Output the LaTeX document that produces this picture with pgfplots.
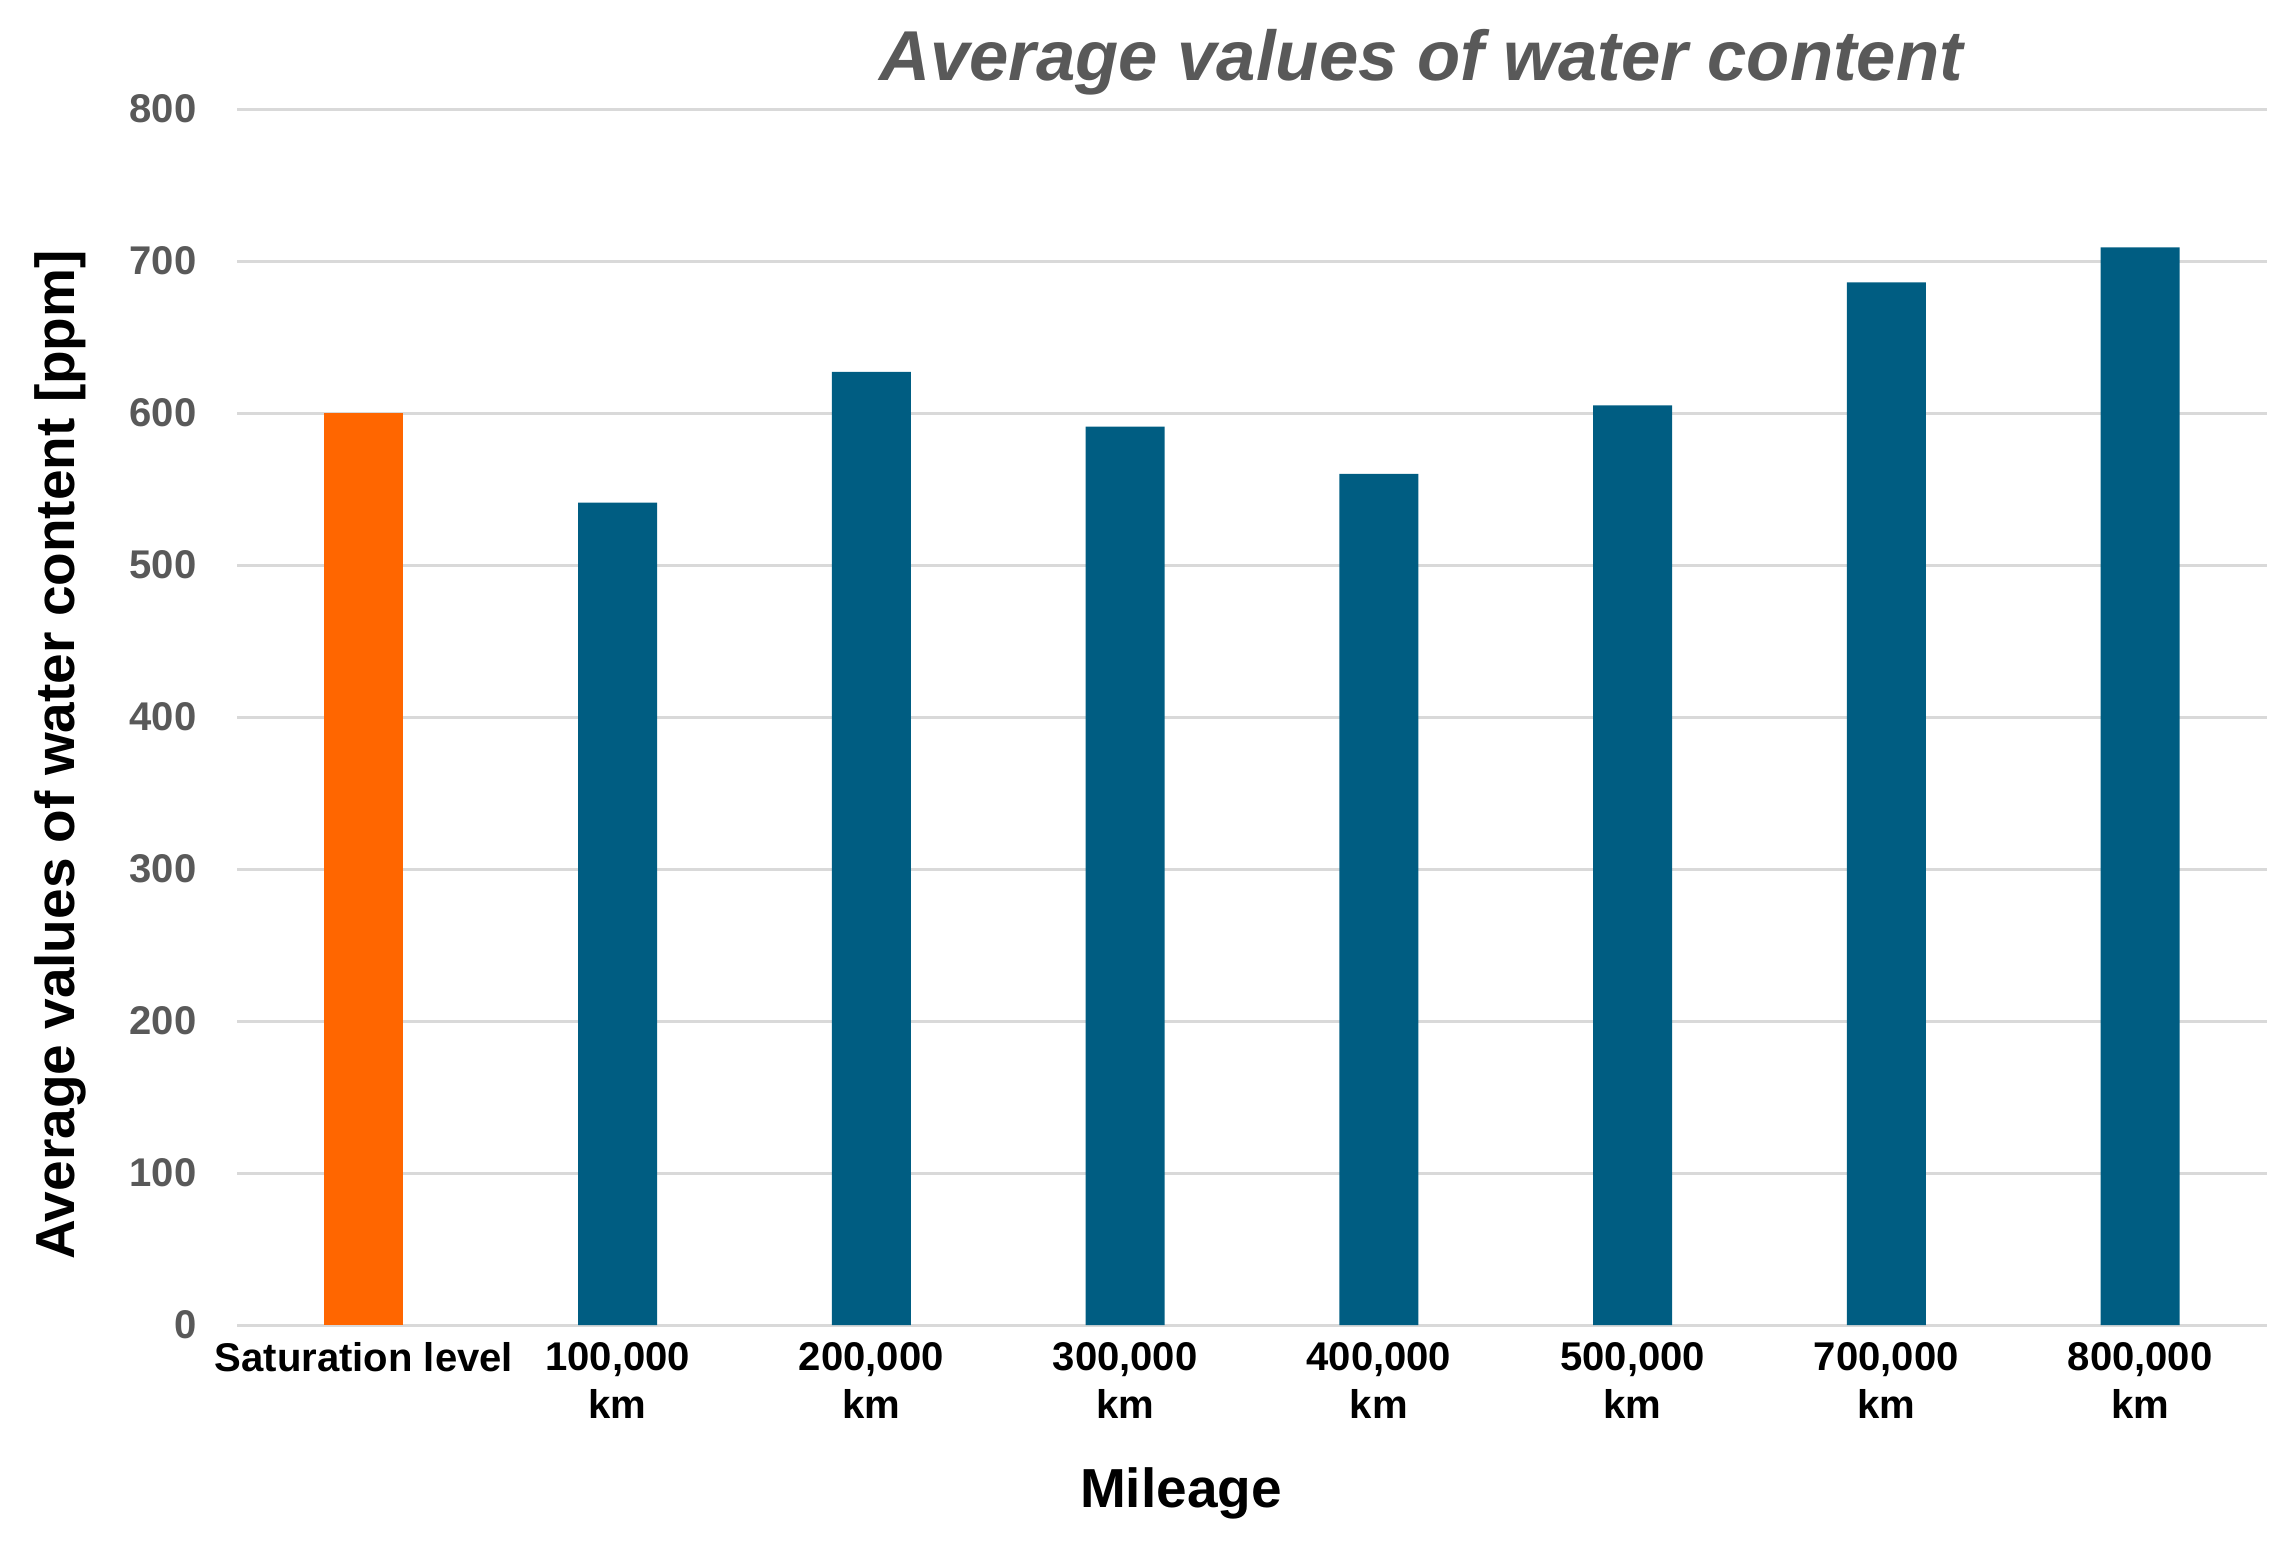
\documentclass[border=0pt]{standalone}
\usepackage{fontspec}
\setmainfont{Liberation Sans}
\usepackage{pgfplots}
\pgfplotsset{compat=1.18}
\definecolor{barblue}{RGB}{0,93,130}
\definecolor{barorange}{RGB}{255,102,0}
\definecolor{gridgray}{RGB}{217,217,217}
\definecolor{txtgray}{RGB}{89,89,89}
\begin{document}
\begin{tikzpicture}
\path (0,0) rectangle (22.96,15.63);
\begin{axis}[
  at={(2.37cm,2.38cm)}, anchor=south west,
  scale only axis, width=20.30cm, height=12.16cm,
  xmin=-0.5, xmax=7.5, ymin=0, ymax=800,
  ytick={0,100,...,800},
  xtick={0,...,7},
  xticklabels={Saturation level,{100,000\\km},{200,000\\km},{300,000\\km},{400,000\\km},{500,000\\km},{700,000\\km},{800,000\\km}},
  major tick length=0pt,
  axis line style={draw=none},
  ymajorgrids, grid style={gridgray, line width=0.03cm},
  /pgf/number format/assume math mode=true,
  yticklabel style={font=\fontsize{11.4pt}{13.66pt}\selectfont\bfseries, text=txtgray, inner sep=0pt, anchor=east, xshift=-0.40cm},
  xticklabel style={font=\fontsize{11.4pt}{13.66pt}\selectfont\bfseries, text=black, inner sep=0pt, anchor=north, yshift=-0.17cm, align=center},
  ylabel={Average values of water content [ppm]},
  ylabel style={font=\fontsize{15.65pt}{18pt}\selectfont\bfseries, at={(rel axis cs:-0.0800,0.4688)}, anchor=base, inner sep=0pt},
  xlabel={Mileage},
  xlabel style={font=\fontsize{15.65pt}{18pt}\selectfont\bfseries, at={(rel axis cs:0.465,-0.1497)}, anchor=base, inner sep=0pt},
  every axis title shift=0pt,
  title={Average values of water content},
  title style={font=\fontsize{20.1pt}{24pt}\selectfont\bfseries\itshape, text=txtgray, at={(rel axis cs:0.5833,1.0238)}, anchor=base, inner sep=0pt},
  ybar, bar width=0.79cm, bar shift=0pt,
]
\addplot[fill=barorange, draw=none] coordinates {(0,600)};
\addplot[fill=barblue, draw=none] coordinates {(1,541) (2,627) (3,591) (4,560) (5,605) (6,686) (7,709)};
\end{axis}
\end{tikzpicture}
\end{document}
